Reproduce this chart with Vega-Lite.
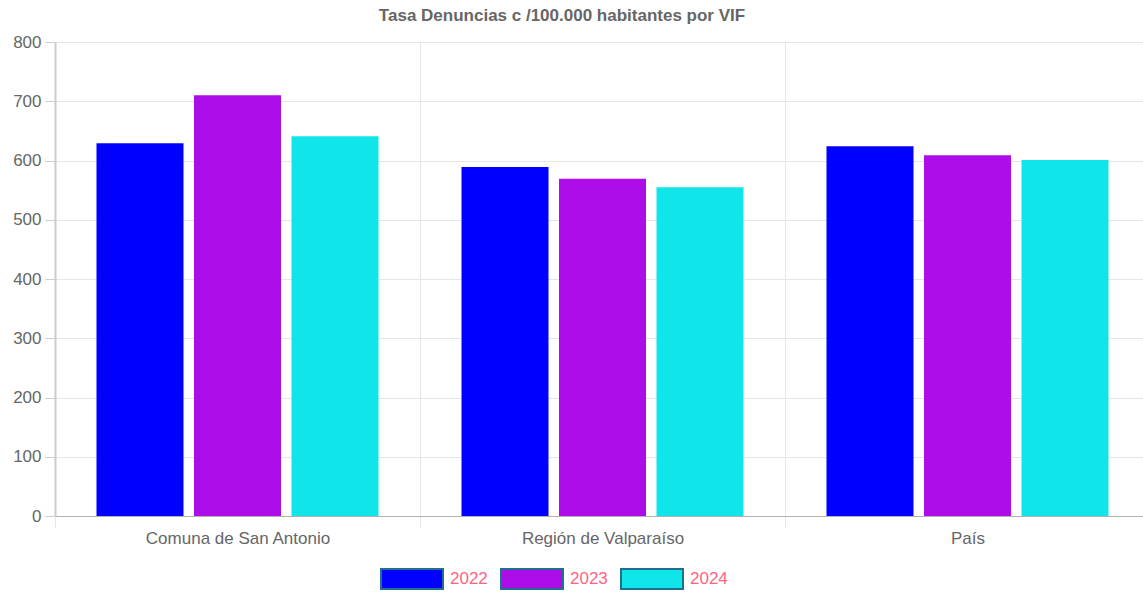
{
  "$schema": "https://vega.github.io/schema/vega-lite/v6.json",
  "width": 1088,
  "height": 474,
  "autosize": {"type": "none"},
  "padding": {"left": 55, "top": 42, "right": 0, "bottom": 78},
  "background": "white",
  "title": {
    "text": "Tasa Denuncias c /100.000 habitantes por VIF",
    "fontSize": 17,
    "fontWeight": "bold",
    "color": "#666666",
    "font": "Liberation Sans",
    "anchor": "middle",
    "dx": -37,
    "offset": 8
  },
  "data": {
    "values": [
      {"lugar": "Comuna de San Antonio", "anio": "2022", "tasa": 629},
      {"lugar": "Comuna de San Antonio", "anio": "2023", "tasa": 710},
      {"lugar": "Comuna de San Antonio", "anio": "2024", "tasa": 641},
      {"lugar": "Región de Valparaíso", "anio": "2022", "tasa": 589},
      {"lugar": "Región de Valparaíso", "anio": "2023", "tasa": 569},
      {"lugar": "Región de Valparaíso", "anio": "2024", "tasa": 555},
      {"lugar": "País", "anio": "2022", "tasa": 624},
      {"lugar": "País", "anio": "2023", "tasa": 609},
      {"lugar": "País", "anio": "2024", "tasa": 601}
    ]
  },
  "mark": {"type": "bar"},
  "encoding": {
    "x": {
      "field": "lugar",
      "type": "nominal",
      "sort": null,
      "scale": {"paddingInner": 0, "paddingOuter": 0, "range": [0, 1095]},
      "axis": {
        "title": null,
        "labelAngle": 0,
        "labelFontSize": 17,
        "labelColor": "#666666",
        "labelFont": "Liberation Sans",
        "labelPadding": 2,
        "labelLimit": 0,
        "tickBand": "extent",
        "tickSize": 12,
        "tickColor": "#e6e6e6",
        "grid": true,
        "gridColor": "#e6e6e6",
        "domainColor": "#b0b0b0",
        "domainWidth": 1
      }
    },
    "xOffset": {
      "field": "anio",
      "type": "nominal",
      "scale": {"paddingInner": 0.1077, "paddingOuter": 0.4256}
    },
    "y": {
      "field": "tasa",
      "type": "quantitative",
      "scale": {"domain": [0, 800], "nice": false},
      "axis": {
        "title": null,
        "values": [0, 100, 200, 300, 400, 500, 600, 700, 800],
        "labelFontSize": 17,
        "labelColor": "#666666",
        "labelFont": "Liberation Sans",
        "labelPadding": 4,
        "tickSize": 10,
        "tickColor": "#cccccc",
        "gridColor": "#e6e6e6",
        "domainColor": "#cccccc",
        "domainWidth": 2
      }
    },
    "color": {
      "field": "anio",
      "type": "nominal",
      "scale": {"domain": ["2022", "2023", "2024"], "range": ["#0000ff", "#ac0de8", "#10e6ea"]},
      "legend": {
        "title": null,
        "orient": "none",
        "direction": "horizontal",
        "legendX": 325,
        "legendY": 505,
        "symbolType": "M-1,-0.32L1,-0.32L1,0.32L-1,0.32Z",
        "symbolSize": 3844,
        "symbolStrokeColor": "#1f6f8f",
        "symbolStrokeWidth": 2,
        "symbolOpacity": 1,
        "labelFontSize": 17,
        "labelColor": "#ff6384",
        "labelFont": "Liberation Sans",
        "labelOffset": 6,
        "columnPadding": 9
      }
    }
  },
  "config": {
    "view": {"stroke": null}
  }
}
